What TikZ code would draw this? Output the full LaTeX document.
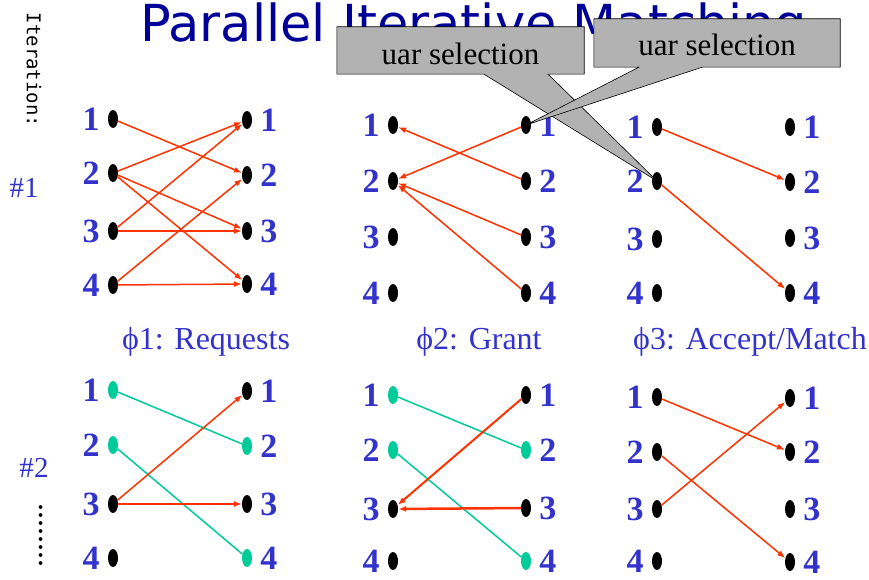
\documentclass[tikz,border=0pt]{standalone}
\usepackage{fontspec}
\setmainfont{Liberation Serif}
\newfontfamily\titlefont{DejaVu Sans}
\newfontfamily\iterfont{DejaVu Sans Mono}
\usepackage{xcolor}
\usetikzlibrary{shapes.geometric,arrows.meta,calc}

\definecolor{numblue}{RGB}{51,51,204}
\definecolor{titleblue}{RGB}{0,0,153}
\definecolor{reqred}{RGB}{255,51,0}
\definecolor{matchgreen}{RGB}{0,204,153}
\definecolor{uargray}{RGB}{178,178,178}

\tikzset{
  port/.style={
    shape = ellipse,
    fill = black,
    inner sep = 0pt,
    minimum width = 10pt,
    minimum height = 18pt
  },
  portL/.style={port, label={[num]left:#1}},
  portR/.style={port, label={[num]right:#1}},
  num/.style={
    inner sep = 0pt,
    label distance = 8pt,
    text = numblue,
    font = \bfseries\fontsize{34}{34}\selectfont
  }
}
\tikzset{
  req/.style={
    draw = reqred,
    line width = 1.5pt,
    -{Latex[length=8pt,width=6pt]}
  },
  match/.style={
    draw = matchgreen,
    line width = 1.5pt
  },
  phase/.style={
    inner sep = 0pt,
    text = numblue,
    font = \fontsize{32}{32}\selectfont
  },
  uarbox/.style={
    minimum width = 247pt,
    minimum height = 47pt,
    inner sep = 0pt
  },
  callout/.style={
    fill = uargray,
    draw = black,
    line width = 0.6pt
  }
}

\begin{document}
\begin{tikzpicture}[x=1pt, y=-1pt]
    \useasboundingbox (0,0) rectangle (869,580);
    \node[anchor=base west, inner sep=0, text=titleblue, font=\titlefont\fontsize{51}{51}\selectfont] (title) at (140,42) {Parallel Iterative Matching};
    \node[rotate=-90, inner sep=0, font=\iterfont\fontsize{19}{19}\selectfont] (iter) at (34,70) {Iteration:};
    \node[phase, font=\fontsize{29}{29}\selectfont] (it1) at (24,188) {\#1};
    \node[phase, font=\fontsize{29}{29}\selectfont] (it2) at (34,468) {\#2};
    \node[rotate=90, inner sep=0, font=\fontsize{32}{32}\selectfont] (more) at (41,535) {........};
    % iteration 1
    \node[portL=1] (rq1L1) at (113,119) {};
    \node[portL=2] (rq1L2) at (113,173) {};
    \node[portL=3] (rq1L3) at (113,231) {};
    \node[portL=4] (rq1L4) at (113,285) {};
    \node[portR=1] (rq1R1) at (247,120) {};
    \node[portR=2] (rq1R2) at (247,175) {};
    \node[portR=3] (rq1R3) at (247,231) {};
    \node[portR=4] (rq1R4) at (247,284) {};
    \node[portL=1] (gr1L1) at (393,125) {};
    \node[portL=2] (gr1L2) at (393,181) {};
    \node[portL=3] (gr1L3) at (393,237) {};
    \node[portL=4] (gr1L4) at (393,293) {};
    \node[portR=1] (gr1R1) at (526,125) {};
    \node[portR=2] (gr1R2) at (526,181) {};
    \node[portR=3] (gr1R3) at (526,237) {};
    \node[portR=4] (gr1R4) at (526,293) {};
    \node[portL=1] (ac1L1) at (657,127) {};
    \node[portL=2] (ac1L2) at (657,181) {};
    \node[portL=3] (ac1L3) at (657,239) {};
    \node[portL=4] (ac1L4) at (657,293) {};
    \node[portR=1] (ac1R1) at (790,127) {};
    \node[portR=2] (ac1R2) at (790,182) {};
    \node[portR=3] (ac1R3) at (790,238) {};
    \node[portR=4] (ac1R4) at (790,293) {};
    \draw[req] (rq1L1) -- (rq1R2);
    \draw[req] (rq1L2) -- (rq1R1);
    \draw[req] (rq1L2) -- (rq1R3);
    \draw[req] (rq1L2) -- (rq1R4);
    \draw[req] (rq1L3) -- (rq1R1);
    \draw[req] (rq1L3) -- (rq1R3);
    \draw[req] (rq1L4) -- (rq1R2);
    \draw[req] (rq1L4) -- (rq1R4);
    \draw[req] (gr1R1) -- (gr1L2);
    \draw[req] (gr1R2) -- (gr1L1);
    \draw[req] (gr1R3) -- (gr1L2);
    \draw[req] (gr1R4) -- (gr1L2);
    \draw[req] (ac1L1) -- (ac1R2);
    \draw[req] (ac1L2) -- (ac1R4);
    \node[phase] (ph1) at (206,342) {ϕ1: Requests};
    \node[phase] (ph2) at (479,342) {ϕ2: Grant};
    \node[phase] (ph3) at (750,342) {ϕ3: Accept/Match};
    % iteration 2
    \node[portL=1, fill=matchgreen] (rq2L1) at (113,390) {};
    \node[portL=2, fill=matchgreen] (rq2L2) at (113,445) {};
    \node[portL=3] (rq2L3) at (113,504) {};
    \node[portL=4] (rq2L4) at (113,558) {};
    \node[portR=1] (rq2R1) at (247,391) {};
    \node[portR=2, fill=matchgreen] (rq2R2) at (247,446) {};
    \node[portR=3] (rq2R3) at (247,504) {};
    \node[portR=4, fill=matchgreen] (rq2R4) at (247,558) {};
    \node[portL=1, fill=matchgreen] (gr2L1) at (393,395) {};
    \node[portL=2, fill=matchgreen] (gr2L2) at (393,450) {};
    \node[portL=3] (gr2L3) at (393,509) {};
    \node[portL=4] (gr2L4) at (393,561) {};
    \node[portR=1] (gr2R1) at (526,395) {};
    \node[portR=2, fill=matchgreen] (gr2R2) at (526,450) {};
    \node[portR=3] (gr2R3) at (526,508) {};
    \node[portR=4, fill=matchgreen] (gr2R4) at (526,561) {};
    \node[portL=1] (ac2L1) at (657,397) {};
    \node[portL=2] (ac2L2) at (657,452) {};
    \node[portL=3] (ac2L3) at (657,509) {};
    \node[portL=4] (ac2L4) at (657,561) {};
    \node[portR=1] (ac2R1) at (790,398) {};
    \node[portR=2] (ac2R2) at (790,452) {};
    \node[portR=3] (ac2R3) at (790,509) {};
    \node[portR=4] (ac2R4) at (790,562) {};
    \draw[match] (rq2L1) -- (rq2R2);
    \draw[match] (rq2L2) -- (rq2R4);
    \draw[req] (rq2L3) -- (rq2R1);
    \draw[req] (rq2L3) -- (rq2R3);
    \draw[match] (gr2L1) -- (gr2R2);
    \draw[match] (gr2L2) -- (gr2R4);
    \draw[req, line width=2pt] (gr2R1) -- (gr2L3);
    \draw[req, line width=2.5pt] (gr2R3) -- (gr2L3);
    \draw[req] (ac2L1) -- (ac2R2);
    \draw[req] (ac2L2) -- (ac2R4);
    \draw[req] (ac2L3) -- (ac2R1);
    % uar selection callouts
    \node[uarbox] (uar1) at (460.5,50.5) {};
    \node[uarbox, minimum width=246pt, minimum height=48pt] (uar2) at (717,43) {};
    \filldraw[callout] (uar1.north west) -- (uar1.north east) -- (uar1.south east)
      -- ($(uar1.south west)!.854!(uar1.south east)$) -- (ac1L2.center)
      -- ($(uar1.south west)!.595!(uar1.south east)$) -- (uar1.south west) -- cycle;
    \node[phase, text=black, font=\fontsize{31}{31}\selectfont] (uar1txt) at ($(uar1)+(0,3)$) {uar selection};
    \filldraw[callout] (uar2.north west) -- (uar2.north east) -- (uar2.south east)
      -- ($(uar2.south west)!.44!(uar2.south east)$) -- (gr1R1.center)
      -- ($(uar2.south west)!.183!(uar2.south east)$) -- (uar2.south west) -- cycle;
    \node[phase, text=black, font=\fontsize{31}{31}\selectfont] (uar2txt) at ($(uar2)+(0,2)$) {uar selection};
\end{tikzpicture}
\end{document}
